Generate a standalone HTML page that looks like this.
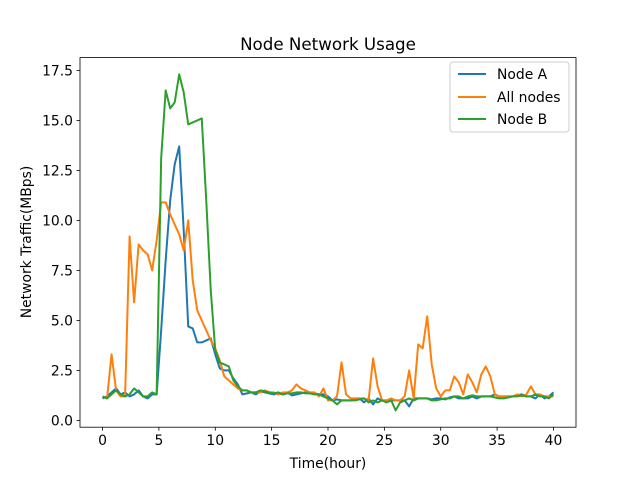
<!DOCTYPE html>
<html><head><meta charset="utf-8"><style>
body{margin:0;background:#fff}
svg text{font-family:"DejaVu Sans","Liberation Sans",sans-serif;fill:#000}
</style></head><body>
<svg id="chart" width="640" height="480">
<rect width="640" height="480" fill="#fff"/>
<text x="328" y="50" font-size="16.7" text-anchor="middle">Node Network Usage</text>
<g id="grid"></g>
<g id="lines"></g>
<rect x="80" y="57.6" width="496" height="369.6" fill="none" stroke="#000" stroke-width="0.8"/>
<text x="328" y="468" font-size="13.9" text-anchor="middle">Time(hour)</text>
<text x="0" y="0" font-size="13.9" text-anchor="middle" transform="translate(31,242) rotate(-90)">Network Traffic(MBps)</text>
<g>
<rect x="450" y="62" width="119" height="70" rx="3" fill="#fff" fill-opacity="0.8" stroke="#ccc" stroke-width="1"/>
<line x1="458" y1="74" x2="486" y2="74" stroke="#1f77b4" stroke-width="2"/>
<text x="497" y="79" font-size="13.9">Node A</text>
<line x1="458" y1="97" x2="486" y2="97" stroke="#ff7f0e" stroke-width="2"/>
<text x="497" y="102" font-size="13.9">All nodes</text>
<line x1="458" y1="119" x2="486" y2="119" stroke="#2ca02c" stroke-width="2"/>
<text x="497" y="124" font-size="13.9">Node B</text>
</g>
</svg>
<script>
const xTicks=[0,5,10,15,20,25,30,35,40];
const yTicks=[0,2.5,5,7.5,10,12.5,15,17.5];
const yTickLabels=["0.0","2.5","5.0","7.5","10.0","12.5","15.0","17.5"];
const timeStep=0.4;
const nodeA=[1.1,1.2,1.4,1.6,1.3,1.4,1.2,1.3,1.5,1.2,1.1,1.3,1.3,
4.5,8.0,11.0,12.8,13.7,9.5,4.7,4.6,3.9,3.9,4.0,4.1,3.3,
2.6,2.5,2.5,2.1,1.8,1.3,1.35,1.4,1.3,1.45,
1.4,1.35,1.3,1.35,1.3,1.4,1.25,1.3,1.35,1.4,
1.4,1.35,1.3,1.3,1.2,1.0,1.05,1.0,1.0,1.0,
1.05,1.1,0.9,1.1,0.8,1.1,1.0,1.0,1.0,1.0,
1.0,1.0,0.7,1.1,1.1,1.1,1.1,1.05,1.1,1.1,
1.05,1.15,1.2,1.1,1.1,1.1,1.2,1.1,1.2,1.2,
1.2,1.3,1.2,1.2,1.2,1.2,1.25,1.3,1.2,1.2,
1.1,1.3,1.1,1.2,1.4];
const allNodes=[1.2,1.1,3.3,1.5,1.2,1.2,9.2,5.9,8.8,8.5,8.3,7.5,9.0,
10.9,10.9,10.3,9.8,9.3,8.5,10.0,7.0,5.5,5.0,4.5,4.0,3.6,
3.0,2.2,2.0,1.8,1.6,1.5,1.5,1.4,1.4,1.4,
1.5,1.4,1.4,1.3,1.4,1.4,1.5,1.8,1.6,1.5,
1.4,1.4,1.2,1.6,1.0,1.0,1.2,2.9,1.3,1.1,
1.1,1.1,1.1,1.0,3.1,1.7,1.0,1.0,1.1,1.0,
1.0,1.2,2.5,1.1,3.8,3.6,5.2,2.8,1.6,1.2,
1.5,1.5,2.2,1.9,1.3,2.3,1.9,1.4,2.3,2.7,
2.2,1.3,1.2,1.2,1.2,1.2,1.3,1.2,1.3,1.7,
1.3,1.3,1.2,1.2,1.2];
const nodeB=[1.2,1.1,1.3,1.5,1.3,1.2,1.3,1.6,1.4,1.2,1.2,1.4,1.3,
13.1,16.5,15.6,15.9,17.3,16.4,14.8,14.9,15.0,15.1,11.0,6.5,3.5,
2.9,2.8,2.7,2.0,1.7,1.5,1.5,1.4,1.4,1.5,
1.45,1.4,1.35,1.4,1.3,1.35,1.35,1.4,1.4,1.35,
1.35,1.3,1.3,1.2,1.1,1.0,0.8,1.0,1.0,1.0,
1.0,1.05,1.1,0.9,1.0,0.9,1.0,0.9,1.0,0.5,
0.9,1.0,1.1,1.0,1.1,1.1,1.1,1.0,1.0,1.05,
1.1,1.1,1.2,1.2,1.1,1.2,1.25,1.2,1.2,1.2,
1.2,1.15,1.1,1.1,1.15,1.2,1.2,1.25,1.2,1.2,
1.3,1.2,1.2,1.1,1.3];
const NS="http://www.w3.org/2000/svg";
const L=80,R=576,T=57.6,B=427.2;
const xMin=-2,xMax=42,yMin=-0.34,yMax=18.14;
function xs(v){return L+(v-xMin)/(xMax-xMin)*(R-L);}
function ys(v){return B-(v-yMin)/(yMax-yMin)*(B-T);}
const grid=document.getElementById('grid');
xTicks.forEach(t=>{
  const l=document.createElementNS(NS,'line');
  l.setAttribute('x1',xs(t));l.setAttribute('x2',xs(t));l.setAttribute('y1',B);l.setAttribute('y2',B+3.5);
  l.setAttribute('stroke','#000');l.setAttribute('stroke-width','0.8');
  
  
  grid.appendChild(l);
  const tx=document.createElementNS(NS,'text');
  tx.setAttribute('x',xs(t));tx.setAttribute('y',B+18);tx.setAttribute('font-size','13.9');tx.setAttribute('text-anchor','middle');
  tx.textContent=String(t);
  
  
  grid.appendChild(tx);
});
yTicks.forEach((t,i)=>{
  const l=document.createElementNS(NS,'line');
  l.setAttribute('x1',L-3.5);l.setAttribute('x2',L);l.setAttribute('y1',ys(t));l.setAttribute('y2',ys(t));
  l.setAttribute('stroke','#000');l.setAttribute('stroke-width','0.8');
  
  
  grid.appendChild(l);
  const tx=document.createElementNS(NS,'text');
  tx.setAttribute('x',L-7);tx.setAttribute('y',ys(t)+5);tx.setAttribute('font-size','13.9');tx.setAttribute('text-anchor','end');
  tx.textContent=yTickLabels[i];
  
  
  grid.appendChild(tx);
});
const lines=document.getElementById('lines');
function draw(data,color,name){
  const p=document.createElementNS(NS,'polyline');
  p.setAttribute('points',data.map((v,i)=>xs(i*timeStep).toFixed(2)+','+ys(v).toFixed(2)).join(' '));
  p.setAttribute('fill','none');p.setAttribute('stroke',color);p.setAttribute('stroke-width','2');p.setAttribute('stroke-linejoin','round');
  
  
  lines.appendChild(p);
}
draw(nodeA,'#1f77b4','series-node-a');
draw(allNodes,'#ff7f0e','series-all-nodes');
draw(nodeB,'#2ca02c','series-node-b');
</script>
</body></html>
